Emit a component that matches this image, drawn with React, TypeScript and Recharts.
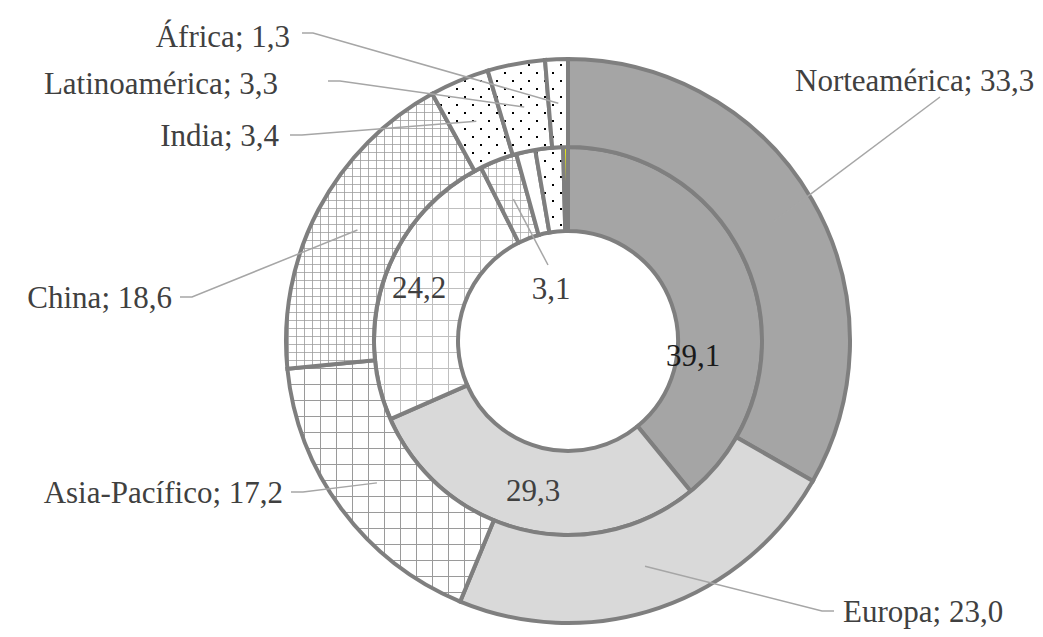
import React from 'react';
import { PieChart, Pie, Cell } from 'recharts';

// Market shares by region (outer ring) and the reference split (inner ring)
const outerRegions = ['Norteamérica', 'Europa', 'Asia-Pacífico', 'China', 'India', 'Latinoamérica', 'África'];
const outerShares = [33.3, 23.0, 17.2, 18.6, 3.4, 3.3, 1.3];
const innerShares = [39.1, 29.3, 24.2, 3.1, 1.6, 2.3, 0.4];
const innerLabelled = [true, true, true, true, false, false, false];

const outerFills = ['#a5a5a5', '#d9d9d9', 'url(#gridWide)', 'url(#gridFine)', 'url(#dots)', 'url(#dots)', 'url(#dots)'];
const innerFills = ['#a5a5a5', '#d9d9d9', 'url(#gridWideLight)', 'url(#gridFineLight)', '#ffffff', 'url(#dots)', '#ffff00'];

// where each outer callout sits: text anchor point + leader elbow points
const outerCallouts = [
  { x: 795, y: 91, anchor: 'start', path: [[940, 97]] },
  { x: 843, y: 622, anchor: 'start', path: [[822, 611], [834, 611]] },
  { x: 283, y: 503, anchor: 'end', path: [[303, 492], [291, 492]] },
  { x: 172, y: 308, anchor: 'end', path: [[192, 297], [180, 297]] },
  { x: 279, y: 146, anchor: 'end', path: [[302, 135], [290, 135]] },
  { x: 278, y: 94, anchor: 'end', path: [[340, 81], [328, 81]] },
  { x: 290, y: 47, anchor: 'end', path: [[313, 33], [302, 33]] },
];

// inner value labels; the small one gets a leader into the hole
const innerCallouts = [
  { x: 693, y: 366, line: null },
  { x: 533, y: 501, line: null },
  { x: 419, y: 298, line: null },
  { x: 551, y: 299, line: [548, 265] },
];

const outerData = outerRegions.map((name, i) => ({ name, value: outerShares[i] }));
const innerData = innerShares.map((value, i) => ({ name: `s${i}`, value }));

const fmt = (v: number) => v.toFixed(1).replace('.', ',');
const RAD = Math.PI / 180;
const textStyle = { fontFamily: "'Liberation Serif', 'Times New Roman', serif", fontSize: 31 };

const ringPoint = (props: any) => {
  const r = (props.innerRadius + props.outerRadius) / 2;
  return [props.cx + r * Math.cos(-props.midAngle * RAD), props.cy + r * Math.sin(-props.midAngle * RAD)];
};

const renderOuterLabel = (props: any) => {
  const c = outerCallouts[props.index];
  const [sx, sy] = ringPoint(props);
  const pts = [[sx, sy], ...c.path].map((p) => p.join(',')).join(' ');
  return (
    <g key={`ol-${props.index}`}>
      <polyline points={pts} fill="none" stroke="#a6a6a6" strokeWidth={1.5} />
      <text x={c.x} y={c.y} textAnchor={c.anchor} style={textStyle} fill="#404040">
        {`${outerRegions[props.index]}; ${fmt(outerShares[props.index])}`}
      </text>
    </g>
  );
};

const renderInnerLabel = (props: any) => {
  if (!innerLabelled[props.index]) return null;
  const c = innerCallouts[props.index];
  const [sx, sy] = ringPoint(props);
  return (
    <g key={`il-${props.index}`}>
      {c.line && <line x1={sx} y1={sy} x2={c.line[0]} y2={c.line[1]} stroke="#a6a6a6" strokeWidth={1.5} />}
      <text x={c.x} y={c.y} textAnchor="middle" style={textStyle} fill={props.index === 0 ? '#1a1a1a' : '#404040'}>
        {fmt(innerShares[props.index])}
      </text>
    </g>
  );
};

export default function App() {
  return (
    <div
      style={{
        position: 'absolute',
        left: 0,
        top: 0,
        width: 1043,
        height: 637,
        background: '#fff',
        fontFamily: "'Liberation Serif', 'Times New Roman', serif",
      }}
    >
      <PieChart width={1043} height={637}>
        <defs>
          <pattern id="gridWide" width="16" height="16" patternUnits="userSpaceOnUse">
            <rect width="16" height="16" fill="#fff" />
            <path d="M0 0H16M0 0V16" stroke="#9a9a9a" strokeWidth="2" />
          </pattern>
          <pattern id="gridWideLight" width="16" height="16" patternUnits="userSpaceOnUse">
            <rect width="16" height="16" fill="#fff" />
            <path d="M0 0H16M0 0V16" stroke="#bfbfbf" strokeWidth="2" />
          </pattern>
          <pattern id="gridFine" width="8" height="8" patternUnits="userSpaceOnUse">
            <rect width="8" height="8" fill="#fff" />
            <path d="M0 0H8M0 0V8" stroke="#9a9a9a" strokeWidth="1.6" />
          </pattern>
          <pattern id="gridFineLight" width="8" height="8" patternUnits="userSpaceOnUse">
            <rect width="8" height="8" fill="#fff" />
            <path d="M0 0H8M0 0V8" stroke="#aaaaaa" strokeWidth="1.6" />
          </pattern>
          <pattern id="dots" width="16" height="16" patternUnits="userSpaceOnUse">
            <rect width="16" height="16" fill="#fff" />
            <rect x="0" y="0" width="2" height="2" fill="#000" />
            <rect x="8" y="8" width="2" height="2" fill="#000" />
          </pattern>
        </defs>
        <Pie
          data={innerData}
          dataKey="value"
          cx={563}
          cy={336}
          innerRadius={110}
          outerRadius={194}
          startAngle={90}
          endAngle={-270}
          stroke="#7f7f7f"
          strokeWidth={4}
          label={renderInnerLabel}
          labelLine={false}
          isAnimationActive={false}
        >
          {innerData.map((d, i) => (
            <Cell key={d.name} fill={innerFills[i]} />
          ))}
        </Pie>
        <Pie
          data={outerData}
          dataKey="value"
          cx={563}
          cy={336}
          innerRadius={194}
          outerRadius={282}
          startAngle={90}
          endAngle={-270}
          stroke="#7f7f7f"
          strokeWidth={4}
          label={renderOuterLabel}
          labelLine={false}
          isAnimationActive={false}
        >
          {outerData.map((d, i) => (
            <Cell key={d.name} fill={outerFills[i]} />
          ))}
        </Pie>
      </PieChart>
    </div>
  );
}
